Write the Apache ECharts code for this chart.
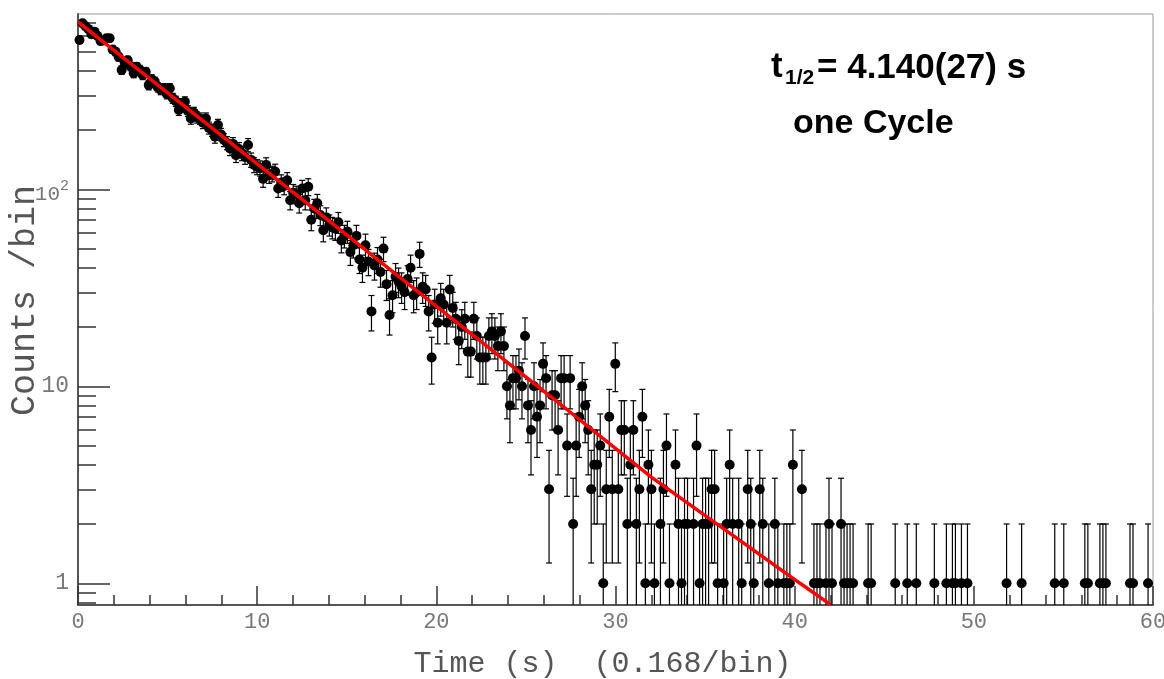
<!DOCTYPE html>
<html><head><meta charset="utf-8">
<script src="https://cdn.jsdelivr.net/npm/echarts@6/dist/echarts.min.js"></script>
<style>html,body{margin:0;padding:0;background:#fff}#c{width:1164px;height:679px}</style>
</head><body><div id="c"></div>
<script>
// ---- data ----
const BIN_WIDTH = 0.168; // s per bin
// counts per bin, bin i centred at (i+0.5)*BIN_WIDTH
const counts = [
  573,696,672,650,612,631,600,566,570,584,584,512,499,470,403,440,452,420,388,419,
  405,380,395,338,362,352,330,320,326,305,326,290,280,253,272,278,250,229,245,232,
  229,218,229,205,200,185,212,190,178,172,161,170,149,160,152,146,168,141,133,130,
  128,113,133,118,120,123,101,108,104,111,88,96,94,85,101,88,103,70,80,85,
  74,62,72,66,64,63,68,55,58,61,48,52,58,44,40,52,43,24,41,44,
  38,50,33,23,29,36,34,32,30,35,40,29,30,47,32,31,24,14,26,21,
  28,26,21,31,25,22,17,20,22,15,15,22,18,14,14,14,18,19,18,16,
  19,16,10,8,11,11,12,10,18,8,6,10,7,8,13,11,3,9,9,6,
  11,11,5,11,2,5,7,10,8,6,3,4,4,5,1,3,7,3,13,3,
  6,6,2,4,6,2,3,7,1,4,3,1,0,2,3,5,1,0,4,2,
  1,2,2,0,2,5,1,2,2,2,3,3,1,0,1,2,4,2,0,2,
  1,0,3,2,1,0,3,2,0,1,0,2,1,0,1,1,1,4,0,0,
  3,0,0,0,1,1,1,0,1,2,1,0,0,2,1,1,1,1,0,0,
  0,0,1,1,0,0,0,0,0,0,0,1,0,0,0,1,0,0,1,0,
  0,0,0,0,1,0,0,0,1,0,1,1,0,1,0,1,0,0,0,0,
  0,0,0,0,0,0,0,0,1,0,0,0,0,1,0,0,0,0,0,0,
  0,0,0,0,1,0,0,1,0,0,0,0,0,0,1,1,0,0,0,1,
  1,1,0,0,0,0,0,0,0,1,1,0,0,0,0,1,0
];
// red fit curve
const fitTime  = [0, 12.4, 18.0, 26.4, 32.0, 40.3, 42.0];
const fitValue = [707, 90.4, 35.5, 8.85, 3.46, 1.0, 0.78];

const yMajorTicks = [1, 10, 100];
const yMinorTicks = [0.8, 0.9, 2, 3, 4, 5, 6, 7, 8, 9, 20, 30, 40, 50, 60, 70, 80, 90, 200, 300, 400, 500, 600, 700];
const Y_MIN = 0.776, Y_MAX = 776;
const X_MIN = 0, X_MAX = 60;

// ---- build series data ----
const points = [], bars = [];
counts.forEach((c, i) => {
  if (c > 0) {
    const t = (i + 0.5) * BIN_WIDTH;
    const e = Math.sqrt(c);
    points.push([t, c]);
    bars.push([t, c - e, c + e]);
  }
});
const fitData = fitTime.map((t, i) => [t, fitValue[i]]);

const MONO = '"Liberation Mono", "DejaVu Sans Mono", monospace';
const SANS = '"Liberation Sans", Arial, sans-serif';

const chart = echarts.init(document.getElementById('c'), null, {renderer: 'canvas'});
chart.setOption({
  animation: false,
  backgroundColor: '#fff',
  grid: {left: 78, right: 11, top: 14, bottom: 74, show: true, borderColor: '#999', borderWidth: 1,
         containLabel: false, outerBoundsMode: 'none'},
  xAxis: {
    type: 'value', min: X_MIN, max: X_MAX, interval: 10,
    axisLine: {show: true, onZero: false, lineStyle: {color: '#555', width: 2}},
    axisTick: {show: true, inside: true, length: 19, lineStyle: {color: '#333', width: 1.5}},
    minorTick: {show: true, splitNumber: 5, length: 10, lineStyle: {color: '#333', width: 1.5}},
    axisLabel: {fontFamily: MONO, fontSize: 22, color: '#777', margin: 6},
    splitLine: {show: false},
    name: 'Time (s)  (0.168/bin)', nameLocation: 'middle', nameGap: 44, nameMoveOverlap: false,
    nameTextStyle: {fontFamily: MONO, fontSize: 30, color: '#555', padding: [0, 26, 0, 0]}
  },
  yAxis: [{
    type: 'log', logBase: 10, min: Y_MIN, max: Y_MAX,
    axisLine: {show: true, onZero: false, lineStyle: {color: '#555', width: 2}},
    axisTick: {show: true, inside: true, length: 32, customValues: yMajorTicks, lineStyle: {color: '#333', width: 1.5}},
    axisLabel: {
      customValues: yMajorTicks, fontFamily: MONO, fontSize: 23, color: '#777', margin: 9,
      formatter: v => (Math.abs(v - 100) < 1e-6 ? '{b|10}{s|2}' : String(Math.round(v))),
      rich: {
        b: {fontFamily: MONO, fontSize: 21, color: '#777', padding: [10, 0, 0, 0]},
        s: {fontFamily: MONO, fontSize: 15, color: '#777', padding: [0, 0, 6, 0]}
      }
    },
    splitLine: {show: false},
    name: 'Counts /bin', nameLocation: 'middle', nameGap: 36, nameMoveOverlap: false,
    nameTextStyle: {fontFamily: MONO, fontSize: 35, color: '#555', padding: [0, 0, 0, 18]}
  }, {
    type: 'log', logBase: 10, min: Y_MIN, max: Y_MAX, position: 'left',
    axisLine: {show: false},
    axisTick: {show: true, inside: true, length: 18, customValues: yMinorTicks, lineStyle: {color: '#333', width: 1.5}},
    axisLabel: {show: false},
    splitLine: {show: false}
  }],
  series: [{
    type: 'custom', name: 'errors', xAxisIndex: 0, yAxisIndex: 0, clip: true, z: 2,
    encode: {x: 0, y: [1, 2]},
    data: bars,
    renderItem: (params, api) => {
      const t = api.value(0), lo = api.value(1), hi = api.value(2);
      const clipped = !(lo > Y_MIN);
      const top = api.coord([t, hi]);
      const bot = api.coord([t, clipped ? Y_MIN : lo]);
      const st = {stroke: '#000', lineWidth: 1.2};
      const ch = [
        {type: 'line', shape: {x1: top[0], y1: top[1], x2: bot[0], y2: bot[1]}, style: st},
        {type: 'line', shape: {x1: top[0] - 3, y1: top[1], x2: top[0] + 3, y2: top[1]}, style: st}
      ];
      if (!clipped) ch.push({type: 'line', shape: {x1: bot[0] - 3, y1: bot[1], x2: bot[0] + 3, y2: bot[1]}, style: st});
      return {type: 'group', children: ch};
    }
  }, {
    type: 'scatter', name: 'counts', data: points, symbol: 'circle', symbolSize: 10,
    itemStyle: {color: '#000', opacity: 1}, z: 3, clip: true
  }, {
    type: 'line', name: 'fit', data: fitData, showSymbol: false, smooth: false,
    lineStyle: {color: '#f00', width: 3.5}, z: 4, clip: true
  }],
  graphic: [
    {type: 'text', left: 771, top: 50, style: {text: 't', font: 'bold 35px ' + SANS, fill: '#000'}},
    {type: 'text', left: 785, top: 68, style: {text: '1/2', font: 'bold 21px ' + SANS, fill: '#000'}},
    {type: 'text', left: 817, top: 51, style: {text: '= 4.140(27) s', font: 'bold 35px ' + SANS, fill: '#000'}},
    {type: 'text', left: 793, top: 107, style: {text: 'one Cycle', font: 'bold 34px ' + SANS, fill: '#000'}}
  ]
});
</script>
</body></html>
